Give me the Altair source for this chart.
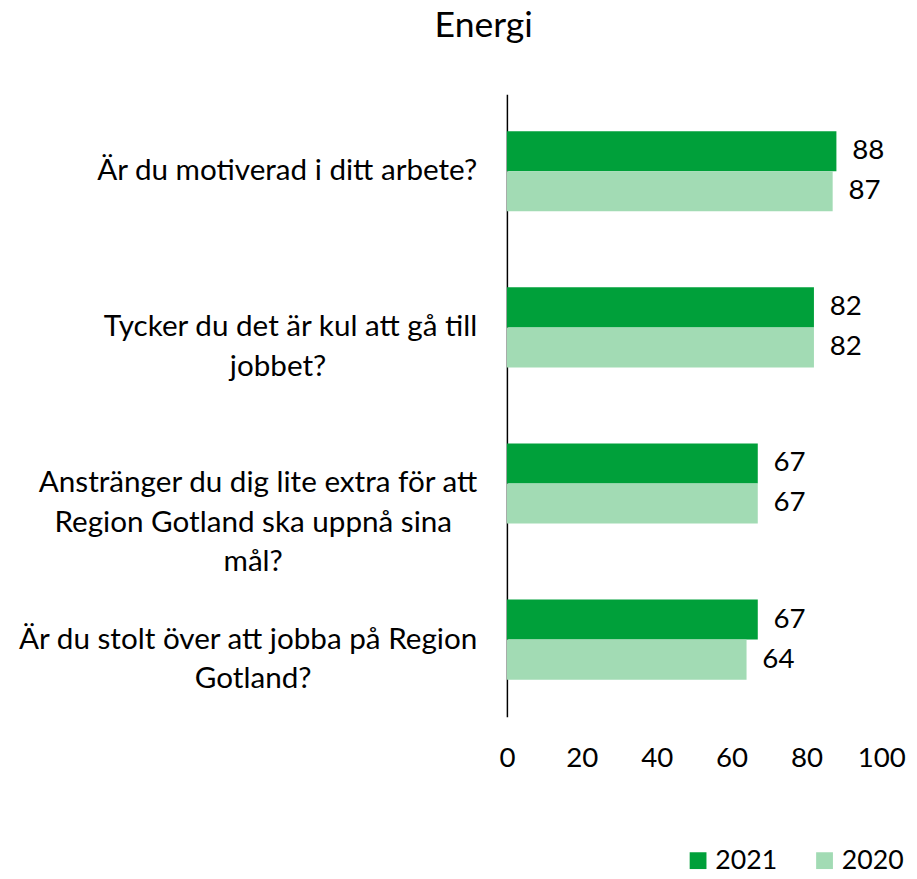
import altair as alt
import pandas as pd

questions = [
    "Är du motiverad i ditt arbete?",
    "Tycker du det är kul att gå till|jobbet?",
    "Anstränger du dig lite extra för att|Region Gotland ska uppnå sina|mål?",
    "Är du stolt över att jobba på Region|Gotland?",
]
years = ["2021", "2020"]
v2021 = [88, 82, 67, 67]
v2020 = [87, 82, 67, 64]
x_ticks = [0, 20, 40, 60, 80, 100]

DARK = "#00A03A"
LIGHT = "#A2DBB4"
FONT = "Lato"

rows = []
for q, a, b in zip(questions, v2021, v2020):
    rows.append({"fraga": q, "year": "2021", "value": a})
    rows.append({"fraga": q, "year": "2020", "value": b})
df = pd.DataFrame(rows)
lab = pd.DataFrame({"fraga": questions})

yscale = alt.Scale(domain=questions, paddingInner=0.487, paddingOuter=0.237)
yaxis = alt.Axis(labels=False, ticks=False, title=None, domainColor="#000000",
                 domainWidth=1.5, grid=False)
xscale = alt.Scale(domain=[0, 100])
xaxis = alt.Axis(values=x_ticks, grid=False, domain=False, ticks=False, title=None,
                 labelFontSize=28, labelFont=FONT, labelColor="#000000", labelPadding=28,
                 labelFlush=False)
yoff = alt.YOffset("year:N", sort=years,
                   scale=alt.Scale(domain=years, paddingInner=0, paddingOuter=0))

bars = alt.Chart(df).mark_bar().encode(
    y=alt.Y("fraga:N", scale=yscale, axis=yaxis, sort=questions),
    yOffset=yoff,
    x=alt.X("value:Q", scale=xscale, axis=xaxis),
    color=alt.Color("year:N", scale=alt.Scale(domain=years, range=[DARK, LIGHT]),
                    legend=alt.Legend(title=None, orient="none", direction="horizontal",
                                      legendX=180, legendY=762, symbolType="square",
                                      symbolSize=289, symbolStrokeWidth=0,
                                      labelFontSize=27, labelFont=FONT, labelColor="#000000",
                                      columnPadding=34, labelOffset=4)),
)

vals = alt.Chart(df).mark_text(align="left", baseline="middle", dx=16, fontSize=28,
                               font=FONT, color="#000000").encode(
    y=alt.Y("fraga:N", scale=yscale, axis=yaxis, sort=questions),
    yOffset=yoff,
    x=alt.X("value:Q", scale=xscale, axis=xaxis),
    text="value:Q",
)

# first line: right-aligned next to the axis; later lines centred under it
lab_base = alt.Chart(lab).transform_calculate(
    first="split(datum.fraga, '|')[0]",
).transform_calculate(
    t_first="datum.first + replace(datum.fraga, regexp('[^|]', 'g'), '')",
    t_rest="substring(datum.fraga, length(datum.first))",
    px_first="-30",
    px_rest="-30 - length(datum.first) * 12.6 / 2",
)

lab_first = lab_base.mark_text(align="right", baseline="middle", lineBreak="|",
                               fontSize=30, font=FONT, color="#000000",
                               lineHeight=40).encode(
    y=alt.Y("fraga:N", scale=yscale, axis=yaxis, sort=questions),
    x=alt.X("px_first:Q", scale=None),
    text="t_first:N",
)
lab_rest = lab_base.mark_text(align="center", baseline="middle", lineBreak="|",
                              fontSize=30, font=FONT, color="#000000",
                              lineHeight=40).encode(
    y=alt.Y("fraga:N", scale=yscale, axis=yaxis, sort=questions),
    x=alt.X("px_rest:Q", scale=None),
    text="t_rest:N",
)

chart = alt.layer(bars, vals, lab_first, lab_rest).properties(
    width=379, height=630,
    title=alt.TitleParams("Energi", fontSize=36, font=FONT, fontWeight="normal",
                          color="#000000", anchor="middle", dx=-213, offset=50),
    autosize=alt.AutoSizeParams(type="none"),
    padding={"left": 505, "top": 82, "right": 28, "bottom": 158},
).configure_view(stroke=None)

chart.save("out.html", embed_options={"renderer": "svg", "actions": False})
